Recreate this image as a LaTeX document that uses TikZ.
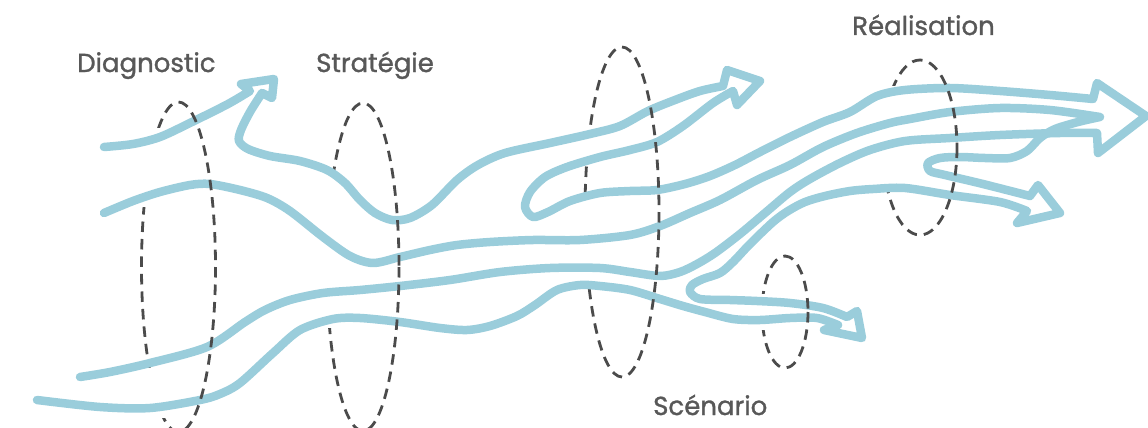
\documentclass[tikz,border=0pt]{standalone}
\usepackage{fontspec}
\setmainfont{Poppins}
\newfontfamily\lblfont[FakeBold=1.2]{Poppins}
\definecolor{flow}{RGB}{154,205,219}
\definecolor{ring}{RGB}{75,75,75}
\definecolor{lbl}{RGB}{88,88,88}
\begin{document}
\begin{tikzpicture}[x=1pt,y=-1pt,
  flowline/.style={draw=flow,line width=8.5pt,line cap=round,line join=round},
  ringline/.style={draw=ring,line width=2.8pt,dash pattern=on 10.5pt off 7pt},
  stagelabel/.style={anchor=base west,inner sep=0pt,text=lbl,font=\lblfont\fontsize{26}{30}\selectfont}]
\useasboundingbox (0,0) rectangle (1148,428);
% ---- ellipse parts behind the flows (left halves, partly hidden)
\newcommand{\ringE}[4]{\draw[ringline] (#1,#2) ellipse [x radius=#3,y radius=#4];}
% E1 Diagnostic
\begin{scope}\clip (130,0) rectangle (178.5,127);\ringE{178.5}{267}{37}{165}\end{scope}
\begin{scope}\clip (130,207) rectangle (178.5,367);\ringE{178.5}{267}{37}{165}\end{scope}
\begin{scope}\clip (130,418) rectangle (178.5,440);\ringE{178.5}{267}{37}{165}\end{scope}
% E2 Strategie
\begin{scope}\clip (315,0) rectangle (363,172);\ringE{363}{267}{36}{164}\end{scope}
\begin{scope}\clip (315,328) rectangle (363,440);\ringE{363}{267}{36}{164}\end{scope}
% E3 Scenario big
\begin{scope}\clip (575,0) rectangle (622,128);\ringE{622}{212}{37}{165}\end{scope}
\begin{scope}\clip (575,165) rectangle (622,192);\ringE{622}{212}{37}{165}\end{scope}
\begin{scope}\clip (575,288) rectangle (622,440);\ringE{622}{212}{37}{165}\end{scope}
% E4 small
\begin{scope}\clip (750,0) rectangle (785,293);\ringE{785}{312}{23}{56}\end{scope}
\begin{scope}\clip (750,330) rectangle (785,440);\ringE{785}{312}{23}{56}\end{scope}
% E5 Realisation
\begin{scope}\clip (870,0) rectangle (920,85);\ringE{920}{147.5}{37}{87.5}\end{scope}
\begin{scope}\clip (870,192) rectangle (920,440);\ringE{920}{147.5}{37}{87.5}\end{scope}
% ---- flow 1
\draw[flowline]
  plot[smooth] coordinates {(104,147) (133,144) (160,137) (192,122) (228,104) (250,91)}
  -- (241,84) -- (274,79) -- (272,98) -- (262,93)
  -- plot[smooth] coordinates {(262,93) (250,112) (241,130) (239,141) (248,149) (270,156) (300,161) (327,170) (345,183) (360,200) (375,213) (392,220) (410,218) (432,205) (457,180) (478,165) (505,153) (550,143) (590,134) (620,126) (648,111) (675,100) (700,91) (723,86)}
  -- (727,70) -- (760,81) -- (737,105) -- (733,91)
  -- plot[smooth] coordinates {(733,91) (713,103) (683,126) (657,142) (630,150) (600,157) (567,167) (545,177) (530,192) (525,207) (533,217) (548,212) (570,201) (600,193) (630,191) (657,190) (685,184) (710,176) (735,165) (760,152) (790,137) (823,122) (850,112) (877,96) (905,90) (950,88) (1000,91) (1050,95) (1093,99)}
  -- (1097,83) -- (1146,116) -- (1098,153) -- (1097,133)
  -- plot[smooth] coordinates {(1097,133) (1060,133) (1000,135) (950,138) (905,141) (870,150) (840,163) (810,179) (790,192) (765,213) (740,234) (715,253) (697,264) (680,272) (660,276) (630,272) (600,268) (550,268) (500,272) (450,280) (400,286) (360,290) (323,293) (290,300) (265,310) (245,322) (207,347) (150,363) (110,372) (80,377)};
% ---- flow 2
\draw[flowline]
  plot[smooth] coordinates {(104,213) (133,201) (160,192) (190,185) (210,184) (240,190) (267,198) (290,211) (323,237) (350,256) (373,263) (400,257) (430,250) (457,245) (490,242) (533,240) (580,240) (630,235) (660,226) (690,213) (720,200) (757,180) (790,165) (823,147) (857,133) (890,123) (910,119) (950,112) (1000,108) (1050,110) (1100,117)}
  -- plot[smooth] coordinates {(1100,117) (1078,122) (1055,129) (1040,138) (1027,151) (1010,158) (985,158) (960,157) (940,158) (928,163) (930,171) (945,175) (983,184) (1030,196)}
  -- (1038,185) -- (1060,213) -- (1017,223) -- (1027,211)
  -- plot[smooth] coordinates {(1027,211) (1000,202) (950,195) (905,188) (873,189) (850,191) (825,196) (805,202) (788,211) (773,222) (750,244) (733,262) (720,273) (703,279) (692,285) (690,292) (700,299) (730,300) (757,301) (790,303) (823,308) (847,317)}
  -- (857,311) -- (862,338) -- (824,330) -- (838,325)
  -- plot[smooth] coordinates {(838,325) (817,318) (790,318) (760,320) (733,319) (705,312) (683,306) (660,299) (630,290) (600,286) (580,285) (557,290) (535,305) (517,316) (490,326) (467,330) (440,328) (400,322) (360,318) (333,319) (300,330) (273,353) (240,383) (220,394) (200,400) (150,408) (100,407) (37,400)};
% ---- ellipse parts in front (right halves)
\begin{scope}\clip (178.5,0) rectangle (230,440);\ringE{178.5}{267}{37}{165}\end{scope}
\begin{scope}\clip (363,0) rectangle (410,440);\ringE{363}{267}{36}{164}\end{scope}
\begin{scope}\clip (622,0) rectangle (670,440);\ringE{622}{212}{37}{165}\end{scope}
\begin{scope}\clip (785,0) rectangle (820,440);\ringE{785}{312}{23}{56}\end{scope}
\begin{scope}\clip (920,0) rectangle (970,440);\ringE{920}{147.5}{37}{87.5}\end{scope}
% ---- labels
\node[stagelabel] (diag) at (77,72) {Diagnostic};
\node[stagelabel] (strat) at (316,72) {Stratégie};
\node[stagelabel] (scen) at (653,415) {Scénario};
\node[stagelabel] (real) at (852,35) {Réalisation};
\end{tikzpicture}
\end{document}
